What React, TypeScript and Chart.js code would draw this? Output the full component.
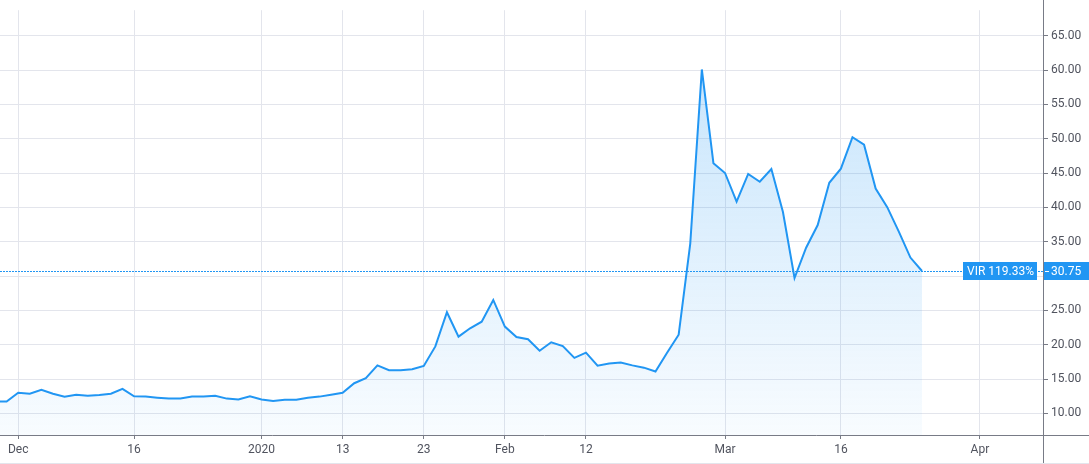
import React, { useEffect, useRef } from "react";
import { Chart, registerables } from "chart.js";

Chart.register(...registerables);

// Closing prices, one per trading bar (first bar index = -1)
const firstBar = -1;
const closes: number[] = [
  11.74, 11.74, 13.02, 12.87, 13.44, 12.87, 12.45, 12.73, 12.59, 12.69,
  12.87, 13.58, 12.5, 12.45, 12.3, 12.16, 12.16, 12.45, 12.45, 12.59,
  12.16, 12.02, 12.5, 12.02, 11.83, 11.98, 11.98, 12.3, 12.45, 12.73,
  13.02, 14.4, 15.15, 17.0, 16.29, 16.29, 16.43, 16.91, 19.76, 24.74,
  21.18, 22.4, 23.36, 26.53, 22.65, 21.12, 20.8, 19.13, 20.37, 19.8,
  18.09, 18.85, 16.96, 17.28, 17.43, 17.0, 16.67, 16.1, 18.85, 21.47,
  34.74, 60.1, 46.44, 45.02, 40.85, 44.88, 43.74, 45.59, 39.33, 29.72,
  34.13, 37.44, 43.6, 45.65, 50.24, 49.15, 42.75, 40.04, 36.49, 32.7,
  30.75,
];

// Time axis ticks (bar index -> label)
const timeTickBars: number[] = [1, 11, 22, 29, 36, 43, 50, 62, 72, 84];
const timeTickLabels: string[] = ["Dec", "16", "2020", "13", "23", "Feb", "12", "Mar", "16", "Apr"];

// Price axis ticks
const priceTicks: number[] = [10, 15, 20, 25, 30, 35, 40, 45, 50, 55, 60, 65];

const symbol = "VIR";
const changeText = "119.33%";
const lastPrice = 30.75;

const X_MIN = -0.572;
const X_MAX = 89.53;
const Y_MIN = 6.86;
const Y_MAX = 68.73;

const BLUE = "#2196F3";
const GRID = "#e3e5ec";
const AXIS = "#787b86";
const TEXT = "#50535e";
const FONT = "Roboto";

export default function App() {
  const ref = useRef<HTMLCanvasElement | null>(null);

  useEffect(() => {
    if (!ref.current) return;
    const points = closes.map((v, i) => ({ x: i + firstBar, y: v }));

    const overlay = {
      id: "overlay",
      beforeDatasetsDraw(chart: any) {
        const { ctx, chartArea, scales } = chart;
        const y = Math.round(scales.y.getPixelForValue(lastPrice)) + 0.5;
        ctx.save();
        ctx.strokeStyle = BLUE;
        ctx.lineWidth = 1;
        ctx.setLineDash([2, 1]);
        ctx.beginPath();
        ctx.moveTo(chartArea.left, y);
        ctx.lineTo(chartArea.right, y);
        ctx.stroke();
        ctx.restore();
      },
      afterDraw(chart: any) {
        const { ctx, chartArea, scales, width, height } = chart;
        ctx.save();
        // axis lines
        ctx.strokeStyle = AXIS;
        ctx.lineWidth = 1;
        ctx.beginPath();
        const ax = Math.round(chartArea.right) - 0.5;
        ctx.moveTo(ax, 0);
        ctx.lineTo(ax, height);
        const ay = Math.round(chartArea.bottom) + 0.5;
        ctx.moveTo(0, ay);
        ctx.lineTo(width, ay);
        ctx.stroke();
        // bottom border
        ctx.fillStyle = GRID;
        ctx.fillRect(0, height - 1, width, 1);

        // price labels
        const yc = scales.y.getPixelForValue(lastPrice);
        const h = 18;
        const top = Math.round(yc - h / 2);
        ctx.font = `12px ${FONT}`;
        ctx.textBaseline = "middle";
        const legendText = `${symbol} ${changeText}`;
        const tw = ctx.measureText(legendText).width;
        const boxR = Math.round(chartArea.right) - 7;
        const boxL = Math.round(boxR - tw - 7);
        ctx.fillStyle = BLUE;
        ctx.fillRect(boxL, top, boxR - boxL, h);
        ctx.fillRect(Math.round(chartArea.right), top, width - Math.round(chartArea.right), h);
        ctx.fillStyle = "#ffffff";
        ctx.textAlign = "left";
        ctx.fillText(legendText, boxL + 4, top + h / 2 + 0.5);
        ctx.fillRect(Math.round(chartArea.right) + 1, Math.round(yc), 4, 1);
        ctx.fillText(lastPrice.toFixed(2), Math.round(chartArea.right) + 7, top + h / 2 + 0.5);
        ctx.restore();
      },
    };

    const chart = new Chart(ref.current, {
      type: "line",
      data: {
        datasets: [
          {
            data: points,
            borderColor: BLUE,
            borderWidth: 2,
            pointRadius: 0,
            tension: 0,
            fill: "start",
            backgroundColor: (c: any) => {
              const { chart } = c;
              const area = chart.chartArea;
              if (!area) return "rgba(33,150,243,0.1)";
              const g = chart.ctx.createLinearGradient(0, area.top, 0, area.bottom);
              g.addColorStop(0, "rgba(33,150,243,0.28)");
              g.addColorStop(1, "rgba(33,150,243,0.03)");
              return g;
            },
          },
        ],
      },
      options: {
        animation: false,
        responsive: false,
        devicePixelRatio: 1,
        layout: { padding: 0 },
        plugins: { legend: { display: false }, tooltip: { enabled: false } },
        scales: {
          x: {
            type: "linear",
            min: X_MIN,
            max: X_MAX,
            afterBuildTicks: (s: any) => {
              s.ticks = timeTickBars.map((v) => ({ value: v }));
            },
            afterFit: (s: any) => {
              s.height = 29;
            },
            grid: { color: GRID, tickColor: AXIS, tickLength: 4, drawTicks: true },
            border: { display: false },
            ticks: {
              autoSkip: false,
              maxRotation: 0,
              padding: 4,
              color: TEXT,
              font: { family: FONT, size: 12 },
              callback: (v: any) => {
                const i = timeTickBars.indexOf(Number(v));
                return i >= 0 ? timeTickLabels[i] : "";
              },
            },
          },
          y: {
            type: "linear",
            position: "right",
            min: Y_MIN,
            max: Y_MAX,
            afterBuildTicks: (s: any) => {
              s.ticks = priceTicks.map((v) => ({ value: v }));
            },
            afterFit: (s: any) => {
              s.width = 45;
            },
            grid: { color: GRID, tickColor: AXIS, tickLength: 4, drawTicks: true },
            border: { display: false },
            ticks: {
              padding: 3,
              color: TEXT,
              font: { family: FONT, size: 12 },
              callback: (v: any) => Number(v).toFixed(2),
            },
          },
        },
      },
      plugins: [overlay],
    } as any);

    return () => chart.destroy();
  }, []);

  return (
    <div style={{ position: "absolute", left: 0, top: 0, width: 1089, height: 464, background: "#fff" }}>
      <canvas ref={ref} width={1089} height={464} style={{ display: "block" }} />
    </div>
  );
}
